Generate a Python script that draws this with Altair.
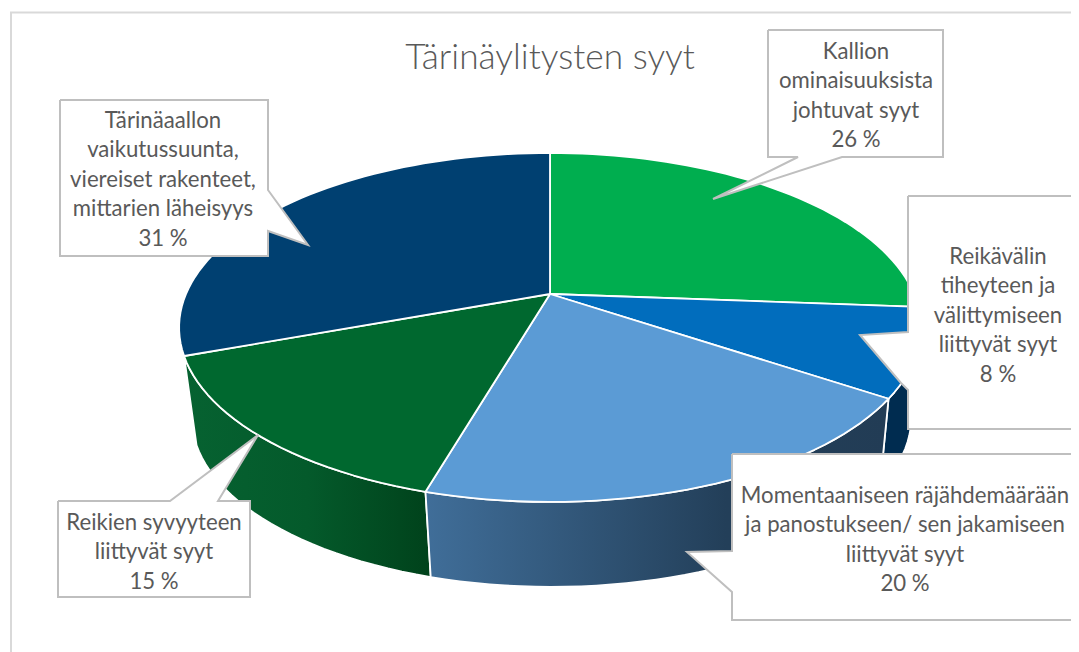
import math
import altair as alt
import pandas as pd

# ---- data ----
shares = [26.2, 8.2, 20.1, 14.9, 30.6]
percent_labels = ["26 %", "8 %", "20 %", "15 %", "31 %"]
category_lines = [
    ["Kallion", "ominaisuuksista", "johtuvat syyt"],
    ["Reikävälin", "tiheyteen ja", "välittymiseen", "liittyvät syyt"],
    ["Momentaaniseen räjähdemäärään", "ja panostukseen/ sen jakamiseen", "liittyvät syyt"],
    ["Reikien syvyyteen", "liittyvät syyt"],
    ["Tärinäaallon", "vaikutussuunta,", "viereiset rakenteet,", "mittarien läheisyys"],
]
title_text = "Tärinäylitysten syyt"
top_colors = ["#00AE4F", "#016DBD", "#5B9BD5", "#00682F", "#004071"]


def grad(*stops):
    return alt.LinearGradient(
        gradient="linear", x1=0, x2=1, y1=0, y2=0,
        stops=[alt.GradientStop(offset=o, color=c) for o, c in stops],
    )


wall_fills = [
    "#00734A",
    "#002C50",
    grad((0, "#406E99"), (0.65, "#233F59"), (1, "#223C55")),
    grad((0, "#066231"), (0.5, "#045A2B"), (1, "#00421B")),
    "#1F5A85",
]

# ---- layout ----
W, H = 1063, 644
OX, OY = 8, 8
CX, CY = 550, 294      # apex of the pie on screen
R, A, K = 364, 168, 0.192  # radius, vertical radius, perspective
DX, DZ, S = 1.5, 91.2, 0.97  # offset and shrink of the lower disc
FONT = "Lato"
TEXT_COLOR = "#595959"
BOX_COLOR = "#BFBFBF"

x_scale = alt.Scale(domain=[OX, OX + W], range=[0, W], nice=False, zero=False)
y_scale = alt.Scale(domain=[OY, OY + H], range=[0, H], nice=False, zero=False)


def rim(t_deg, lower=False):
    t = math.radians(t_deg)
    X, Y = math.sin(t), math.cos(t)
    den = 1 + K * Y
    dx, dy = R * X / den, A * Y / den
    if lower:
        return CX + DX + S * dx, CY + DZ - S * dy
    return CX + dx, CY - dy


def arc(t0, t1, lower=False):
    n = max(2, int(abs(t1 - t0) / 2))
    return [rim(t0 + (t1 - t0) * i / n, lower) for i in range(n + 1)]


def polygon(points, **mark):
    pts = list(points) + [points[0]]
    df = pd.DataFrame({"x": [p[0] for p in pts], "y": [p[1] for p in pts], "i": range(len(pts))})
    return alt.Chart(df).mark_line(clip=True, **mark).encode(
        x=alt.X("x:Q", scale=x_scale, axis=None),
        y=alt.Y("y:Q", scale=y_scale, axis=None),
        order=alt.Order("i:Q"),
    )


cum = [0.0]
for v in shares:
    cum.append(cum[-1] + v)
angles = [c * 3.6 for c in cum]

layers = []

# frame
frame = [(11, 653), (11, 12.5), (1085, 12.5)]
pts = pd.DataFrame({"x": [p[0] for p in frame], "y": [p[1] for p in frame], "i": range(3)})
layers.append(
    alt.Chart(pts).mark_line(clip=True, stroke="#D9D9D9", strokeWidth=2).encode(
        x=alt.X("x:Q", scale=x_scale, axis=None),
        y=alt.Y("y:Q", scale=y_scale, axis=None),
        order=alt.Order("i:Q"),
    )
)

# side walls (only the part facing the viewer)
for i in [4, 1, 3, 2]:
    t0, t1 = angles[i], angles[i + 1]
    if i == 4:
        t1 = 268
    top = arc(t0, t1)
    bottom = arc(t0, t1, lower=True)
    layers.append(polygon(top + bottom[::-1], fill=wall_fills[i], stroke="#FFFFFF", strokeWidth=1.8,
                          strokeJoin="round"))

# top face
for i in range(5):
    t0, t1 = angles[i], angles[i + 1]
    layers.append(polygon([(CX, CY)] + arc(t0, t1), fill=top_colors[i], stroke="#FFFFFF", strokeWidth=1.8,
                          strokeJoin="round"))

# callouts
callouts = [
    [(768, 30), (943, 30), (943, 157), (842, 157), (713, 199), (798, 157), (768, 157)],
    [(908, 196), (1090, 196), (1090, 429), (908, 429), (908, 390), (901, 383), (860, 335), (908, 332)],
    [(732, 454), (1090, 454), (1090, 620), (732, 620), (732, 592), (687, 552), (732, 551)],
    [(58, 501), (170, 501), (258, 435), (218, 501), (250, 501), (250, 597), (58, 597)],
    [(60, 100), (268, 100), (268, 190), (308, 245), (268, 231), (268, 256), (60, 256)],
]
for c in callouts:
    layers.append(polygon(c, fill="#FFFFFF", stroke=BOX_COLOR, strokeWidth=2, strokeJoin="miter"))

# labels
label_centers = [856, 998, 905, 154, 163]
label_first_y = [52, 257, 496, 523, 121]
LINE = 29.4
rows = []
for lines, pct, cx, y0 in zip(category_lines, percent_labels, label_centers, label_first_y):
    for k, line in enumerate(lines + [pct]):
        rows.append({"x": cx, "y": y0 + k * LINE, "t": line})
layers.append(
    alt.Chart(pd.DataFrame(rows)).mark_text(
        font=FONT, fontSize=22.2, color=TEXT_COLOR, align="center", baseline="middle"
    ).encode(
        x=alt.X("x:Q", scale=x_scale, axis=None),
        y=alt.Y("y:Q", scale=y_scale, axis=None),
        text="t:N",
    )
)

# title
layers.append(
    alt.Chart(pd.DataFrame({"x": [550], "y": [58], "t": [title_text]})).mark_text(
        font=FONT, fontSize=35.3, fontWeight=300, color=TEXT_COLOR, align="center", baseline="middle"
    ).encode(
        x=alt.X("x:Q", scale=x_scale, axis=None),
        y=alt.Y("y:Q", scale=y_scale, axis=None),
        text="t:N",
    )
)

chart = alt.layer(*layers).properties(
    width=W, height=H, padding=0, autosize=alt.AutoSizeParams(type="none"), background="#FFFFFF"
).configure_view(stroke=None)

chart.save("out.html", embed_options={"renderer": "svg", "actions": False})
